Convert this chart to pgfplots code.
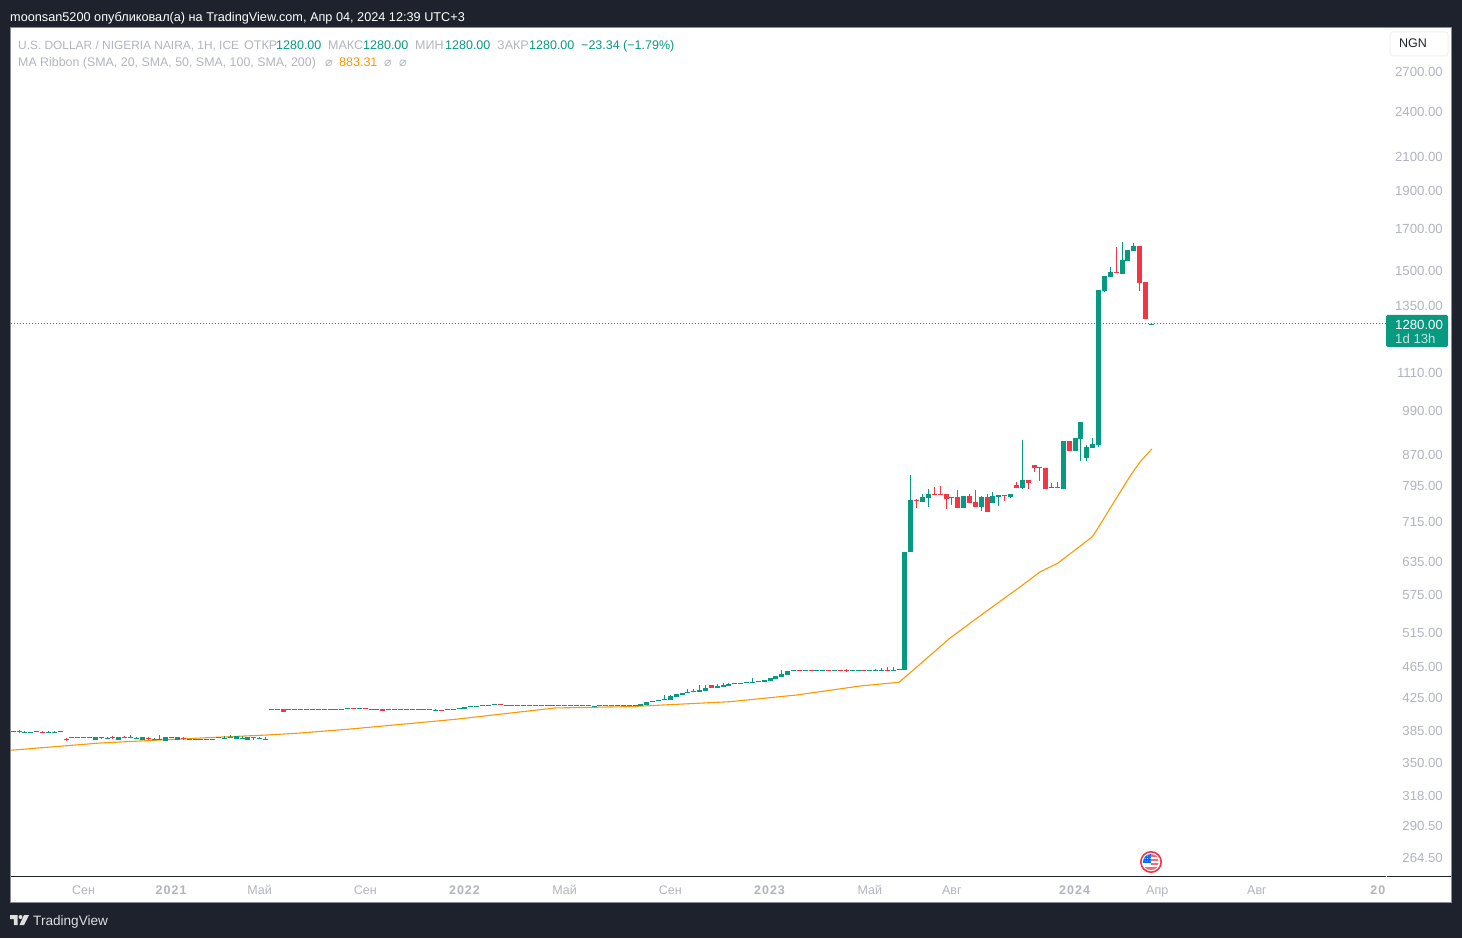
\documentclass[border=0pt]{standalone}
\usepackage{fontspec}
\setmainfont{Liberation Sans}
\newfontfamily\symfont{DejaVu Sans}
\usepackage{pgfplots}
\usepackage{pgfplotstable}
\pgfplotsset{compat=1.18}

\definecolor{panelbg}{HTML}{1E222D}
\definecolor{upgreen}{HTML}{089981}
\definecolor{downred}{HTML}{F23645}
\definecolor{maorange}{HTML}{FF9800}
\definecolor{scalegray}{HTML}{B2B5BE}
\definecolor{framegray}{HTML}{8A8D96}

% weekly bars: x o h l c
\pgfplotstableread{
x o h l c
2 382.8 383.8 382.8 383.8
4 381.7 383.6 381.7 382.7
5 381.7 382.7 381.7 382.7
6 382.8 383.8 382.8 383.8
8 381.7 383.6 381.7 382.7
9 381.7 383.6 381.7 382.7
10 382.8 383.8 382.8 383.8
16 373.7 377 373.7 377
17 376.2 377.2 375.1 377.2
18 375.1 377 375.1 376.1
20 373.7 377 373.7 377
22 376.2 378.9 376.2 377.2
23 375.1 377 375.1 376.1
24 373.7 377 373.7 377
26 374 375.6 374 375
27 374 378.9 374 375
28 372.6 377 372.6 377
29 376.2 377.2 376.2 377.2
30 373.7 377 373.7 377
32 374 375 374 375
33 374 375 374 375
34 374 375 374 375
35 374 375 374 375
36 374 375 374 375
37 376.5 377.5 376.5 377.5
38 375.4 377.8 375.4 376.4
39 376.5 378.9 376.5 377.5
40 374.8 378.1 374.8 378.1
41 375.4 377.8 375.4 376.4
42 373.7 377 373.7 377
44 375.4 377 375.4 376.4
45 374.3 377 374.3 375.3
50 408.6 409.8 408.6 409.8
51 408.6 409.8 408.6 409.8
52 408.6 409.8 408.6 409.8
53 408.6 409.8 408.6 409.8
54 408.6 409.8 408.6 409.8
55 408.6 409.8 408.6 409.8
56 408.6 409.8 408.6 409.8
57 408.6 409.8 408.6 409.8
58 408.6 409.8 408.6 409.8
59 409.8 411 409.8 411
61 409.8 411 409.8 411
63 408.6 409.8 408.6 409.8
64 408.6 409.8 408.6 409.8
66 408.6 409.8 408.6 409.8
67 408.6 409.8 408.6 409.8
68 408.6 409.8 408.6 409.8
69 408.6 409.8 408.6 409.8
70 408.6 409.8 408.6 409.8
71 408.6 409.8 408.6 409.8
72 408.6 409.8 408.6 409.8
74 407.4 409.6 406.8 408.6
76 408.6 409.8 408.6 409.8
77 408.6 409.8 408.6 409.8
78 409.8 411 409.8 411
79 409.9 412.3 409.9 412.3
80 412.2 413.4 412.2 413.4
81 412.2 413.4 412.2 413.4
82 413.4 414.6 413.4 414.6
83 413.4 414.6 413.4 414.6
84 414.7 415.9 414.7 415.9
86 413.4 414.6 413.4 414.6
87 413.4 414.6 413.4 414.6
89 413.4 414.6 413.4 414.6
94 413.4 414.6 413.4 414.6
97 413.4 414.6 413.4 414.6
101 412.2 413.4 412.2 413.4
102 413.4 414.6 413.4 414.6
105 413.4 414.6 413.4 414.6
106 413.4 414.6 413.4 414.6
108 413.4 414.6 413.4 414.6
109 412.8 415.3 412.8 415.3
110 414.4 418.1 414.4 418.1
111 418.4 419.6 418.4 419.6
112 419.1 420.3 419.1 420.3
113 420.4 426.9 420.4 421.6
114 420.6 426.9 420.6 425.6
115 424.3 428.2 424.3 428.2
116 426.9 429.4 426.9 429.4
117 429.8 434.5 429.8 431.1
118 430.6 434.1 430.6 431.9
119 430.6 439.6 430.6 432.8
120 431.9 439.6 431.9 435.8
122 435.8 441 435.8 438.7
123 437 442.2 437 439.6
124 438.7 442.2 438.7 441
125 441.6 442.8 441.6 442.8
126 441.6 442.8 441.6 442.8
127 442.5 443.7 442.5 443.7
128 442.5 448.8 442.5 443.7
129 443.9 445.1 443.9 445.1
130 443.6 446.2 443.6 446.2
131 444.9 448.8 444.9 448.8
132 447.5 451.4 447.5 451.4
133 450.1 459.7 450.1 454.2
134 452.8 458.3 452.8 458.3
135 458.6 459.8 458.6 459.8
137 458.6 459.8 458.6 459.8
139 458.6 459.8 458.6 459.8
140 458.6 459.8 458.6 459.8
142 458.6 459.8 458.6 459.8
145 458.6 459.8 458.6 459.8
146 458.6 459.8 458.6 459.8
148 458.6 459.8 458.6 459.8
149 458.6 461 458.6 459.8
150 458.6 461.9 458.6 459.8
152 458.6 463.3 458.6 459.8
153 460 461.2 460 461.2
154 459.6 651.4 459.6 651.4
155 651.4 818 651.4 759.7
157 755.2 773.3 755.2 766.5
158 764.2 784.8 744.2 773.3
162 764.2 766.5 748.6 766.5
164 742 768.8 742 768.8
167 744.2 768.8 735.4 766.5
169 753 777.9 753 768.8
170 766.5 771 746.4 771
172 766.5 773.3 764.2 773.3
174 787.1 907.2 784.8 806
179 787.1 798.9 787.1 789.5
181 784.8 904.5 784.8 904.5
183 878.1 912.5 878.1 912.5
184 909.8 956.7 852.6 956.7
185 860.1 893.8 852.6 888.6
186 885.9 912.5 885.9 896.5
187 893.8 1413.3 888.6 1413.3
188 1409.2 1473 1405 1473
189 1468.7 1512.8 1468.7 1490.6
191 1481.8 1628.8 1481.8 1544.4
192 1539.8 1590.7 1539.8 1590.7
193 1586 1624 1586 1609.6
196 1277 1279.5 1277 1279.5
}\upbars

\pgfplotstableread{
x o h l c
3 383.8 384.8 381.1 382.8
7 382.7 383.6 381.1 381.7
11 375 376.3 372.9 374
12 377.2 377.2 376.2 376.2
13 377.2 377.2 376.2 376.2
14 377.2 377.2 376.2 376.2
15 377.2 377.2 376.2 376.2
19 377.2 378.1 375.1 376.2
21 377.2 378.1 376.2 376.2
25 376.3 377 374 375.6
31 376.3 376.9 374 375.6
43 377.2 377.2 374 376.2
46 409.8 409.8 408.6 408.6
47 409.8 409.8 408.6 408.6
48 409.6 409.6 406 406
49 409.8 409.8 408.6 408.6
60 411 411 409.8 409.8
62 411 411 409.8 409.8
65 409.6 409.6 407.1 407.1
73 409.8 409.8 408.6 408.6
75 408.6 408.6 407.4 407.4
85 415.9 415.9 414.7 414.7
88 414.6 414.6 413.4 413.4
90 414.6 414.6 413.4 413.4
91 414.6 414.6 413.4 413.4
92 414.6 414.6 413.4 413.4
93 414.6 414.6 413.4 413.4
95 414.6 414.6 413.4 413.4
96 414.6 414.6 413.4 413.4
98 414.6 414.6 413.4 413.4
99 414.6 414.6 413.4 413.4
100 414.6 414.6 413.4 413.4
103 414.6 414.6 413.4 413.4
104 414.6 414.6 413.4 413.4
107 414.6 414.6 413.4 413.4
121 439.6 439.6 435.8 435.8
136 459.8 459.8 458.6 458.6
138 459.8 459.8 458.6 458.6
141 459.8 459.8 458.6 458.6
143 459.8 459.8 458.6 458.6
144 459.3 460.6 457.3 458.1
147 459.8 459.8 458.6 458.6
151 459.8 463.3 458.6 458.6
156 759.7 762.7 742 757.5
159 773.3 789.5 771 771
160 773.3 791.8 771 771
161 773.3 773.3 739.8 762
163 766.5 782.5 742 742
165 768.8 773.3 753 753
166 755.2 782.5 744.2 744.2
168 766.5 773.3 733.3 733.3
171 771 771 757.5 768.8
173 794.2 801.2 787.1 787.1
175 806 806 784.8 798.9
176 842.5 842.5 825.3 835.1
177 837.6 837.6 803.6 835.1
178 835.1 835.1 784.8 784.8
180 789.5 801.2 787.1 787.1
182 904.5 904.5 878.1 878.1
190 1490.6 1604.9 1486.1 1486.1
194 1609.6 1609.6 1409.2 1442.9
195 1447.2 1447.2 1297.2 1297.2
}\downbars

\newcommand{\lab}[5][12.5]{\node[anchor=base west,inner sep=0pt,text=#4,font=\fontsize{#1}{14}\selectfont] at ({#2*1pt},{(938-#3)*1pt}) {#5};}
\newcommand{\yr}[1]{\textbf{\addfontfeatures{LetterSpace=8}#1}}

\begin{document}
\begin{tikzpicture}
\fill[panelbg] (0,0) rectangle (1462pt,938pt);
\fill[white,draw=framegray,line width=0.8pt] (10.5pt,35.5pt) rectangle (1451.5pt,910.5pt);

\begin{axis}[
    at={(11pt,62pt)}, anchor=south west,
    scale only axis,
    width=1375pt, height=848pt,
    xmin=1.62, xmax=236,
    ymode=log, ymin=250, ymax=3066,
    axis line style={draw=none},
    major tick length=0pt,
    minor tick length=0pt,
    tick style={draw=none},
    xtick={14,29,44,62,79,96,114,131,148,162,183,197,214,234.7},
    xticklabels={Сен,\yr{2021},Май,Сен,\yr{2022},Май,Сен,\yr{2023},Май,Авг,\yr{2024},Апр,Авг,\yr{20}},
    xticklabel style={text=scalegray,font=\fontsize{12.5}{14}\selectfont,anchor=base,inner sep=0pt,yshift=-19pt},
    ytick={2700,2400,2100,1900,1700,1500,1350,1110,990,870,795,715,635,575,515,465,425,385,350,318,290.5,264.5},
    yticklabels={2700.00,2400.00,2100.00,1900.00,1700.00,1500.00,1350.00,1110.00,990.00,870.00,795.00,715.00,635.00,575.00,515.00,465.00,425.00,385.00,350.00,318.00,290.50,264.50},
    yticklabel pos=right,
    yticklabel style={text=scalegray,font=\fontsize{13.2}{14}\selectfont,anchor=east,inner sep=0pt,xshift=57pt,yshift=-1pt},
    grid=none,
    error bars/error mark=none,
]
% last price line
\addplot[color=upgreen,line width=1pt,line cap=butt,dash pattern=on 1.1pt off 1.9pt,forget plot] coordinates {(1.62,1278)(236,1278)};

% moving average
\addplot[maorange,line width=1.1pt,forget plot] coordinates {
(1.45,362.5)(16.8,370.4)(33.8,375.9)(45.4,379.3)(50.9,381.5)(59.4,386)(77.3,397.3)(94.4,410.8)(107.1,412.4)(124.2,418.5)
(135.6,426.9)(146.4,438.4)(153,443.2)(156.6,467.8)(161.7,505.2)(167.7,545.5)(173.6,587.4)(177,614)(180.1,630.6)(185.9,681)
(186.7,695.2)(189,741.9)(192.5,818)(194.1,850.7)(196.1,883.4)
};

% wicks
\addplot[draw=none,mark=none,forget plot,error bars/.cd,y dir=plus,y explicit,error bar style={line width=1pt,line cap=butt,draw=upgreen}]
    table[x=x,y=l,y error plus expr=\thisrow{h}-\thisrow{l}] {\upbars};
\addplot[draw=none,mark=none,forget plot,error bars/.cd,y dir=plus,y explicit,error bar style={line width=1pt,line cap=butt,draw=downred}]
    table[x=x,y=l,y error plus expr=\thisrow{h}-\thisrow{l}] {\downbars};
% bodies
\addplot[draw=none,mark=none,forget plot,error bars/.cd,y dir=plus,y explicit,error bar style={line width=5pt,line cap=butt,draw=upgreen}]
    table[x=x,y=o,y error plus expr=\thisrow{c}-\thisrow{o}] {\upbars};
\addplot[draw=none,mark=none,forget plot,error bars/.cd,y dir=plus,y explicit,error bar style={line width=5pt,line cap=butt,draw=downred}]
    table[x=x,y=c,y error plus expr=\thisrow{o}-\thisrow{c}] {\downbars};
\end{axis}

% time axis rule
\draw[panelbg,line width=1pt] (11pt,62pt) -- (1386pt,62pt);
\draw[panelbg,line width=1pt] (1387pt,62pt) -- (1451pt,62pt);

% header and legend
\lab[12.7]{10}{22}{white}{moonsan5200 опубликовал(а) на TradingView.com, Апр 04, 2024 12:39 UTC+3}
\lab[11.9]{18}{50}{scalegray}{U.S. DOLLAR / NIGERIA NAIRA, 1H, ICE}
\lab{244}{50}{scalegray}{ОТКР}
\lab{276}{50}{upgreen}{1280.00}
\lab{328}{50}{scalegray}{МАКС}
\lab{363}{50}{upgreen}{1280.00}
\lab{415}{50}{scalegray}{МИН}
\lab{445}{50}{upgreen}{1280.00}
\lab{497}{50}{scalegray}{ЗАКР}
\lab{529}{50}{upgreen}{1280.00}
\lab{581}{50}{upgreen}{−23.34 (−1.79\%)}
\lab[12.4]{18}{67}{scalegray}{MA Ribbon (SMA, 20, SMA, 50, SMA, 100, SMA, 200)}
\lab{325}{67}{scalegray}{\symfont ⌀}
\lab{339}{67}{maorange}{883.31}
\lab{384}{67}{scalegray}{\symfont ⌀}
\lab{399}{67}{scalegray}{\symfont ⌀}

% currency box
\draw[fill=white,draw=black!6,line width=1pt,rounded corners=3pt] (1390pt,{(938-56)*1pt}) rectangle (1448pt,{(938-32)*1pt});
\lab{1399}{48}{panelbg}{NGN}

% last price label
\fill[upgreen,rounded corners=1.5pt] (1386pt,{(938-347)*1pt}) rectangle (1448pt,{(938-315)*1pt});
\lab[13.2]{1395}{330}{white}{1280.00}
\lab[13.2]{1395}{344}{white!75!upgreen}{1d 13h}

% event flag
\begin{scope}[shift={(1151pt,76pt)}]
\fill[white] (0,0) circle (11.5pt);
\draw[downred,line width=1.6pt] (0,0) circle (10.2pt);
\begin{scope}
\clip (0,0) circle (8pt);
\fill[white] (-8pt,-8pt) rectangle (8pt,8pt);
\fill[downred!75] (-8pt,-8pt) rectangle (8pt,-5pt);
\fill[downred!75] (0pt,-3pt) rectangle (8pt,-1pt);
\fill[downred!75] (0pt,1pt) rectangle (8pt,3pt);
\fill[downred!75] (0pt,5pt) rectangle (8pt,8pt);
\fill[blue!60!cyan] (-8pt,-1pt) rectangle (0pt,8pt);
\foreach \px in {-6,-3.5,-1}{\foreach \py in {1,3.5,6}{\fill[white] (\px pt,\py pt) circle (0.5pt);}}
\end{scope}
\end{scope}

% logo
\fill[white!85!panelbg] (10pt,23pt) -- (17.5pt,23pt) -- (17.5pt,13pt) -- (13.8pt,13pt) -- (13.8pt,19pt) -- (10pt,19pt) -- cycle;
\fill[white!85!panelbg] (20.5pt,21pt) circle (2pt);
\fill[white!85!panelbg] (24pt,23pt) -- (29pt,23pt) -- (24pt,13pt) -- (19.5pt,13pt) -- cycle;
\lab[13.6]{33}{925}{white!85!panelbg}{TradingView}
\end{tikzpicture}
\end{document}
